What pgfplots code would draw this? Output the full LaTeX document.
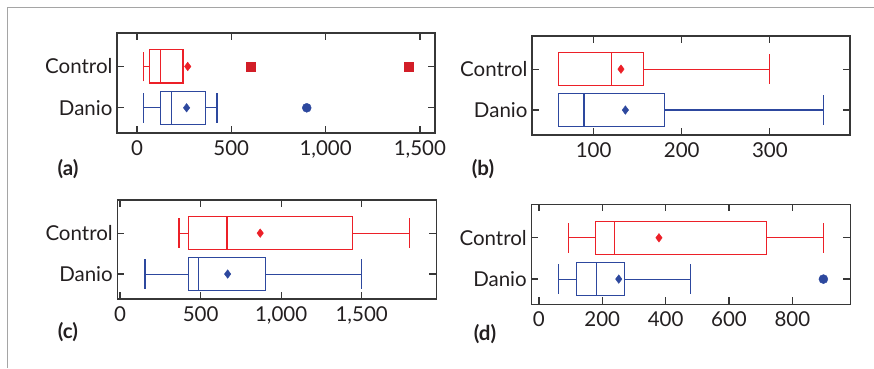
\documentclass[border=0pt]{standalone}
\usepackage{fontspec}
\setmainfont{Lato}
\usepackage{pgfplots}
\pgfplotsset{compat=1.18}
\usepgfplotslibrary{statistics}

\definecolor{cred}{RGB}{236,32,40}
\definecolor{cdred}{RGB}{210,30,40}
\definecolor{cblue}{RGB}{45,72,158}
\definecolor{caxis}{RGB}{55,55,55}
\definecolor{cframe}{RGB}{165,165,165}
\definecolor{ctext}{RGB}{35,31,32}

\pgfplotsset{
  myax/.style={
    scale only axis, anchor=south west,
    ymin=-0.61, ymax=1.81,
    ytick={0,1}, yticklabels={Danio,Control},
    tick align=inside, major tick length=7pt,
    minor tick num=0,
    tick style={caxis, line width=1.2pt},
    axis line style={caxis, line width=1.3pt},
    ticklabel style={font=\fontsize{20.5}{24}\selectfont, text=ctext},
    xticklabel style={yshift=-4pt},
    yticklabel style={xshift=-1pt},
    /pgf/number format/assume math mode=true,
    /pgf/number format/1000 sep={,},
    scaled x ticks=false,
    boxplot/box extend=0.8,
    boxplot/whisker extend=0.72,
    clip=false,
  },
  redbox/.style={draw=cred, line width=1.1pt, solid},
  bluebox/.style={draw=cblue, line width=1.1pt, solid},
  redmean/.style={only marks, mark=diamond*, mark size=4.3pt, color=cred},
  bluemean/.style={only marks, mark=diamond*, mark size=4.3pt, color=cblue},
}
\tikzset{plab/.style={font=\bfseries\fontsize{20.5}{24}\selectfont, text=ctext}}

\begin{document}
\begin{tikzpicture}
\useasboundingbox (0pt,0pt) rectangle (874pt,368pt);
\draw[cframe, line width=1.5pt] (7.5pt,0pt) -- (7.5pt,360.5pt) -- (874pt,360.5pt);

% (a)
\begin{axis}[myax, at={(117pt,235pt)}, width=318pt, height=100pt,
  xmin=-106, xmax=1580, xtick={0,500,1000,1500}]
\addplot[redbox, boxplot prepared={lower whisker=33, lower quartile=64, median=127,
  upper quartile=244, upper whisker=244, draw position=1}] coordinates {};
\addplot[bluebox, boxplot prepared={lower whisker=33, lower quartile=124, median=184,
  upper quartile=362, upper whisker=424, draw position=0}] coordinates {};
\addplot[redmean] coordinates {(269,1)};
\addplot[bluemean] coordinates {(263,0)};
\addplot[only marks, mark=square*, mark size=4.5pt, color=cdred] coordinates {(603,1) (1441,1)};
\addplot[only marks, mark=*, mark size=4.5pt, color=cblue] coordinates {(900,0)};
\end{axis}

% (b)
\begin{axis}[myax, at={(532pt,233pt)}, width=318pt, height=99pt,
  xmin=30, xmax=391, xtick={100,200,300}]
\addplot[redbox, boxplot prepared={lower whisker=60, lower quartile=60, median=120,
  upper quartile=157, upper whisker=300, draw position=1}] coordinates {};
\addplot[bluebox, boxplot prepared={lower whisker=60, lower quartile=60, median=89,
  upper quartile=180, upper whisker=361, draw position=0}] coordinates {};
\addplot[redmean] coordinates {(131,1)};
\addplot[bluemean] coordinates {(136,0)};
\end{axis}

% (c)
\begin{axis}[myax, at={(117.3pt,69pt)}, width=319pt, height=99pt,
  xmin=-17, xmax=1963, xtick={0,500,1000,1500}]
\addplot[redbox, boxplot prepared={lower whisker=366, lower quartile=426, median=664,
  upper quartile=1441, upper whisker=1799, draw position=1}] coordinates {};
\addplot[bluebox, boxplot prepared={lower whisker=155, lower quartile=426, median=486,
  upper quartile=904, upper whisker=1500, draw position=0}] coordinates {};
\addplot[redmean] coordinates {(870,1)};
\addplot[bluemean] coordinates {(668,0)};
\end{axis}

% (d)
\begin{axis}[myax, at={(531.3pt,63.7pt)}, width=319pt, height=100pt,
  xmin=-24, xmax=983, xtick={0,200,400,600,800}]
\addplot[redbox, boxplot prepared={lower whisker=92, lower quartile=180, median=240,
  upper quartile=719, upper whisker=898, draw position=1}] coordinates {};
\addplot[bluebox, boxplot prepared={lower whisker=61, lower quartile=120, median=181,
  upper quartile=269, upper whisker=479, draw position=0}] coordinates {};
\addplot[redmean] coordinates {(379,1)};
\addplot[bluemean] coordinates {(252,0)};
\addplot[only marks, mark=*, mark size=4.5pt, color=cblue] coordinates {(898,0)};
\end{axis}

\node[plab] at (68pt,199pt) {(a)};
\node[plab] at (483pt,199pt) {(b)};
\node[plab] at (68pt,36pt) {(c)};
\node[plab] at (485pt,34pt) {(d)};
\end{tikzpicture}
\end{document}
